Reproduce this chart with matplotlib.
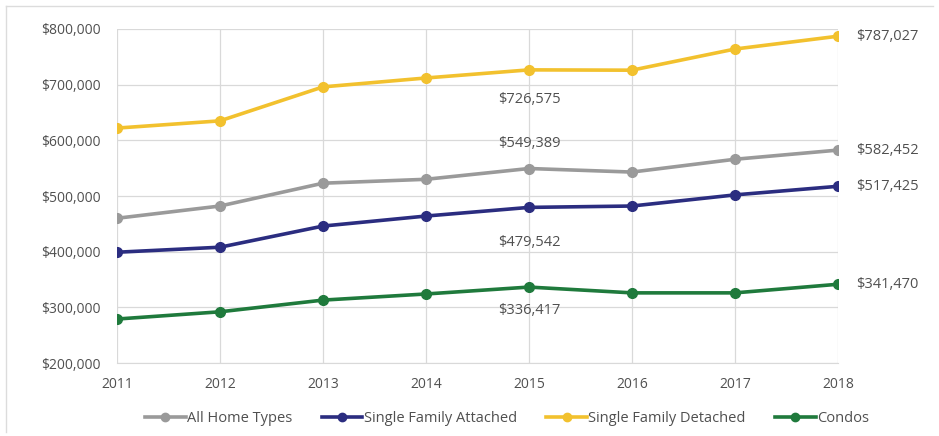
import matplotlib.pyplot as plt
import numpy as np
from matplotlib.lines import Line2D

# median sale price by home type
years = [2011, 2012, 2013, 2014, 2015, 2016, 2017, 2018]
all_types = [460000, 482000, 523000, 530000, 549389, 543000, 566000, 582452]
sf_attached = [399000, 408000, 446000, 464000, 479542, 482000, 502000, 517425]
sf_detached = [622000, 635000, 696000, 712000, 726575, 726000, 764000, 787027]
condos = [279000, 292000, 313000, 324000, 336417, 326000, 326000, 341470]

names = ['All Home Types', 'Single Family Attached', 'Single Family Detached', 'Condos']
colors = ['#9a9a9a', '#2b2d80', '#f2c12e', '#1f7a3c']
series = [all_types, sf_attached, sf_detached, condos]

plt.rcParams['font.family'] = ['Open Sans', 'DejaVu Sans']
txt = '#505050'

fig = plt.figure(figsize=(9.39, 4.36), dpi=100)
ax = fig.add_axes([0.1246, 0.1674, 0.7678, 0.7661])

for vals, c, n in zip(series, colors, names):
    ax.plot(years, vals, color=c, lw=2.6, marker='o', ms=7, label=n, zorder=3)

ax.set_xlim(2011, 2018)
ax.set_ylim(200000, 800000)
ax.set_xticks(years)
ax.set_yticks(np.arange(200000, 800001, 100000))
ax.yaxis.set_major_formatter(plt.FuncFormatter(lambda v, p: f'${v:,.0f}'))
ax.grid(color='#d9d9d9', lw=0.9)
ax.set_axisbelow(True)
for s in ['top', 'right', 'left']:
    ax.spines[s].set_visible(False)
ax.spines['bottom'].set_color('#d9d9d9')
ax.tick_params(length=0, labelsize=10, labelcolor=txt)
ax.tick_params(axis='y', pad=12)
ax.tick_params(axis='x', pad=10)

# value labels
lab = dict(fontsize=10.5, color=txt, va='center')
for vals in [sf_detached, all_types, sf_attached, condos]:
    ax.annotate(f'${vals[7]:,}', (2018, vals[7]), xytext=(13, 0), textcoords='offset points', ha='left', **lab)
ax.annotate(f'${sf_detached[4]:,}', (2015, sf_detached[4]), xytext=(0, -21), textcoords='offset points', ha='center', **lab)
ax.annotate(f'${all_types[4]:,}', (2015, all_types[4]), xytext=(0, 18), textcoords='offset points', ha='center', **lab)
ax.annotate(f'${sf_attached[4]:,}', (2015, sf_attached[4]), xytext=(0, -25), textcoords='offset points', ha='center', **lab)
ax.annotate(f'${condos[4]:,}', (2015, condos[4]), xytext=(0, -17), textcoords='offset points', ha='center', **lab)

handles = [Line2D([], [], color=c, lw=2.6, marker='o', ms=6) for c in colors]
fig.legend(handles, names, loc='center', bbox_to_anchor=(0.54, 0.04), ncol=4, frameon=False,
           fontsize=10.5, labelcolor=txt, handlelength=2.8, handletextpad=0.1, columnspacing=2.0)

# outer frame
fig.add_artist(Line2D([0.0064, 0.0064], [0.01, 0.986], color='#dcdcdc', lw=1))
fig.add_artist(Line2D([0.0064, 0.994], [0.986, 0.986], color='#dcdcdc', lw=1))

fig.savefig('out.png', dpi=100)
